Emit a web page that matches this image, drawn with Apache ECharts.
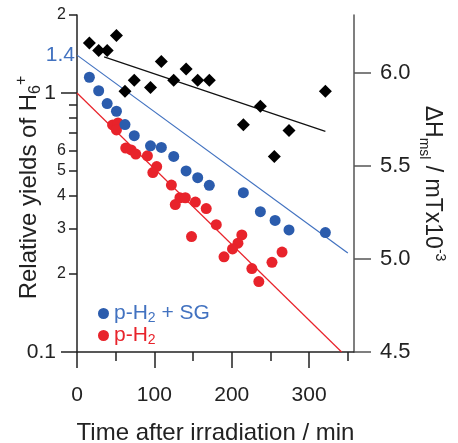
<!DOCTYPE html>
<html><head><meta charset="utf-8">
<script src="https://cdn.jsdelivr.net/npm/echarts@6/dist/echarts.min.js"></script>
<style>html,body{margin:0;padding:0;background:#fff}#c{width:458px;height:443px}</style>
</head><body><div id="c"></div>
<script>
// ---- data ----
const timesSG = [16, 28, 39, 51, 62, 74, 95, 109, 125, 141, 156, 171, 215, 237, 256, 274, 321];
const yieldSG = [1.15, 1.02, 0.91, 0.85, 0.755, 0.684, 0.625, 0.616, 0.569, 0.50, 0.471, 0.44, 0.412, 0.348, 0.322, 0.296, 0.289];
const timesDH = [16, 28, 39, 51, 62, 74, 95, 109, 125, 141, 156, 171, 215, 237, 255, 274, 321];
const dHmsl = [6.16, 6.12, 6.12, 6.20, 5.90, 5.96, 5.92, 6.06, 5.96, 6.02, 5.96, 5.96, 5.72, 5.82, 5.55, 5.69, 5.90];
const timesPH2 = [46, 53, 51, 63, 70, 76, 91, 103, 98, 122, 133, 140, 127, 153, 167, 180, 148, 213, 208, 201, 190, 226, 252, 265, 235];
const yieldPH2 = [0.753, 0.766, 0.720, 0.613, 0.603, 0.581, 0.572, 0.520, 0.493, 0.441, 0.394, 0.394, 0.371, 0.379, 0.358, 0.310, 0.279, 0.283, 0.263, 0.250, 0.233, 0.210, 0.222, 0.243, 0.187];
const fitSG_t = [0, 350], fitSG_y = [1.4, 0.241];
const fitPH2_t = [0, 342], fitPH2_y = [1.0, 0.1];
const fitDH_t = [35, 321], fitDH_y = [6.085, 5.685];
const xTicks = [0, 100, 200, 300];
const xMinorTicks = [50, 150, 250, 350];
const yMin = 0.1, yMax = 2;
const yTickValues = [0.1, 0.2, 0.3, 0.4, 0.5, 0.6, 1, 1.4, 2];
const yTickLabels = ['0.1', '2', '3', '4', '5', '6', '1', '1.4', '2'];
const yLongTicks = [0.1, 1];
const yShortTicks = [0.2, 0.3, 0.4, 0.5, 0.6, 0.7, 0.8, 0.9, 2];
const rTicks = [4.5, 5.0, 5.5, 6.0];
const seriesNames = ['p-H2 + SG', 'p-H2'];

// ---- chart ----
const FONT = 'Liberation Sans, Arial, Helvetica, sans-serif';
const BLUE = '#2b5cad', BLUE_L = '#4272c0', RED = '#e8232b', INK = '#222';
const pairs = (xs, ys) => xs.map((x, i) => [x, ys[i]]);
const chart = echarts.init(document.getElementById('c'), null, {renderer: 'canvas'});
const lineAxis = {show: true, onZero: false, lineStyle: {color: INK, width: 1.5}};
const logTickAxis = (vals, len) => ({
  type: 'value', min: Math.log10(yMin), max: Math.log10(yMax), position: 'left', offset: 0,
  axisLine: {show: false, onZero: false},
  axisTick: {show: true, customValues: vals.map(v => Math.log10(v)), length: len, lineStyle: {color: INK, width: 1.5}},
  axisLabel: {show: false}, splitLine: {show: false}
});
chart.setOption({
  animation: false,
  textStyle: {fontFamily: FONT},
  grid: {left: 77, right: 104, top: 15, bottom: 91, containLabel: false, outerBoundsMode: 'none'},
  legend: [
    {data: [seriesNames[0]], left: 93, top: 298, icon: 'circle', itemWidth: 11, itemHeight: 11,
      formatter: () => '{a|p-H}{s|2}{a| + SG}',
      textStyle: {color: BLUE_L, rich: {a: {fontSize: 21, color: BLUE_L, lineHeight: 24, fontFamily: FONT}, s: {fontSize: 14, color: BLUE_L, verticalAlign: 'bottom', lineHeight: 16, fontFamily: FONT}}}},
    {data: [seriesNames[1]], left: 93, top: 320, icon: 'circle', itemWidth: 11, itemHeight: 11,
      formatter: () => '{a|p-H}{s|2}',
      textStyle: {color: RED, rich: {a: {fontSize: 21, color: RED, lineHeight: 24, fontFamily: FONT}, s: {fontSize: 14, color: RED, verticalAlign: 'bottom', lineHeight: 16, fontFamily: FONT}}}}
  ],
  xAxis: [
    {type: 'value', min: 0, max: 358, position: 'bottom',
      axisLine: lineAxis,
      axisTick: {show: true, customValues: xTicks, length: 16, lineStyle: {color: INK, width: 1.5}},
      axisLabel: {customValues: xTicks, margin: 33, fontSize: 21, color: INK, fontFamily: FONT},
      splitLine: {show: false},
      name: 'Time after irradiation / min', nameLocation: 'middle', nameGap: 69, nameMoveOverlap: false,
      nameTextStyle: {fontSize: 24, color: INK, fontFamily: FONT}},
    {type: 'value', min: 0, max: 358, position: 'bottom', offset: 0,
      axisLine: {show: false, onZero: false},
      axisTick: {show: true, customValues: xMinorTicks, length: 9, lineStyle: {color: INK, width: 1.5}},
      axisLabel: {show: false}, splitLine: {show: false}}
  ],
  yAxis: [
    {type: 'log', logBase: 10, min: yMin, max: yMax, position: 'left', offset: 0,
      axisLine: lineAxis,
      axisTick: {show: false},
      minorTick: {show: false},
      axisLabel: {customValues: yTickValues, margin: 2,
        formatter: (v) => {
          const i = yTickValues.findIndex(t => Math.abs(t - v) < 1e-6);
          if (i < 0) return '';
          const lab = yTickLabels[i];
          const st = lab === '1.4' ? 'blue' : (lab === '0.1' || lab === '1') ? 'big' : 'small';
          return '{' + st + '|' + lab + '}';
        },
        rich: {
          big: {fontSize: 21, color: INK, padding: [0, 19, 0, 0], fontFamily: FONT},
          small: {fontSize: 16, color: INK, padding: [0, 9, 0, 0], fontFamily: FONT},
          blue: {fontSize: 21, color: BLUE_L, padding: [0, 0, 0, 0], fontFamily: FONT}
        }},
      splitLine: {show: false},
      name: '{t|Relative yields of H}{sb|6}{sp|+}', nameLocation: 'middle', nameGap: 33, nameMoveOverlap: false,
      nameTextStyle: {rich: {
        t: {fontSize: 24, color: INK, lineHeight: 30, fontFamily: FONT},
        sb: {fontSize: 16, color: INK, lineHeight: 16, verticalAlign: 'bottom', fontFamily: FONT},
        sp: {fontSize: 16, color: INK, lineHeight: 14, verticalAlign: 'top', padding: [0, 8, 0, 0], fontFamily: FONT}
      }}},
    {type: 'value', min: 4.5, max: 6.31, position: 'right', offset: 0,
      axisLine: {show: true, onZero: false, lineStyle: {color: '#555', width: 1.5}},
      axisTick: {show: true, customValues: rTicks, length: 17, lineStyle: {color: '#555', width: 1.5}},
      axisLabel: {customValues: rTicks, margin: 26, fontSize: 22, color: INK, fontFamily: FONT,
        formatter: (v) => Number(v).toFixed(1)},
      splitLine: {show: false},
      name: '{t|ΔH}{sb|msl}{t| / mTx10}{sp|-3}', nameLocation: 'middle', nameGap: 63, nameRotate: -90, nameMoveOverlap: false,
      nameTextStyle: {rich: {
        t: {fontSize: 23, color: INK, lineHeight: 30, fontFamily: FONT},
        sb: {fontSize: 14, color: INK, lineHeight: 16, verticalAlign: 'bottom', fontFamily: FONT},
        sp: {fontSize: 14, color: INK, lineHeight: 14, verticalAlign: 'top', fontFamily: FONT}
      }}},
    // helper axes: ticks of the log scale, placed at log10 of the tick values
    logTickAxis(yLongTicks, 16),
    logTickAxis(yShortTicks, 8)
  ],
  series: [
    {type: 'line', name: 'fitSG', data: pairs(fitSG_t, fitSG_y), xAxisIndex: 0, yAxisIndex: 0,
      showSymbol: false, lineStyle: {color: BLUE_L, width: 1.2}, z: 1, silent: true},
    {type: 'line', name: 'fitPH2', data: pairs(fitPH2_t, fitPH2_y), xAxisIndex: 0, yAxisIndex: 0,
      showSymbol: false, lineStyle: {color: RED, width: 1.2}, z: 1, silent: true},
    {type: 'line', name: 'fitDH', data: pairs(fitDH_t, fitDH_y), xAxisIndex: 0, yAxisIndex: 1,
      showSymbol: false, lineStyle: {color: '#111', width: 1.2}, z: 1, silent: true},
    {type: 'scatter', name: seriesNames[1], data: pairs(timesPH2, yieldPH2), xAxisIndex: 0, yAxisIndex: 0,
      symbol: 'circle', symbolSize: 11, itemStyle: {color: RED, opacity: 1}, z: 3},
    {type: 'scatter', name: seriesNames[0], data: pairs(timesSG, yieldSG), xAxisIndex: 0, yAxisIndex: 0,
      symbol: 'circle', symbolSize: 11, itemStyle: {color: BLUE, opacity: 1}, z: 3},
    {type: 'scatter', name: 'dH', data: pairs(timesDH, dHmsl), xAxisIndex: 0, yAxisIndex: 1,
      symbol: 'diamond', symbolSize: 13, itemStyle: {color: '#000', opacity: 1}, z: 3}
  ]
});
</script></body></html>
